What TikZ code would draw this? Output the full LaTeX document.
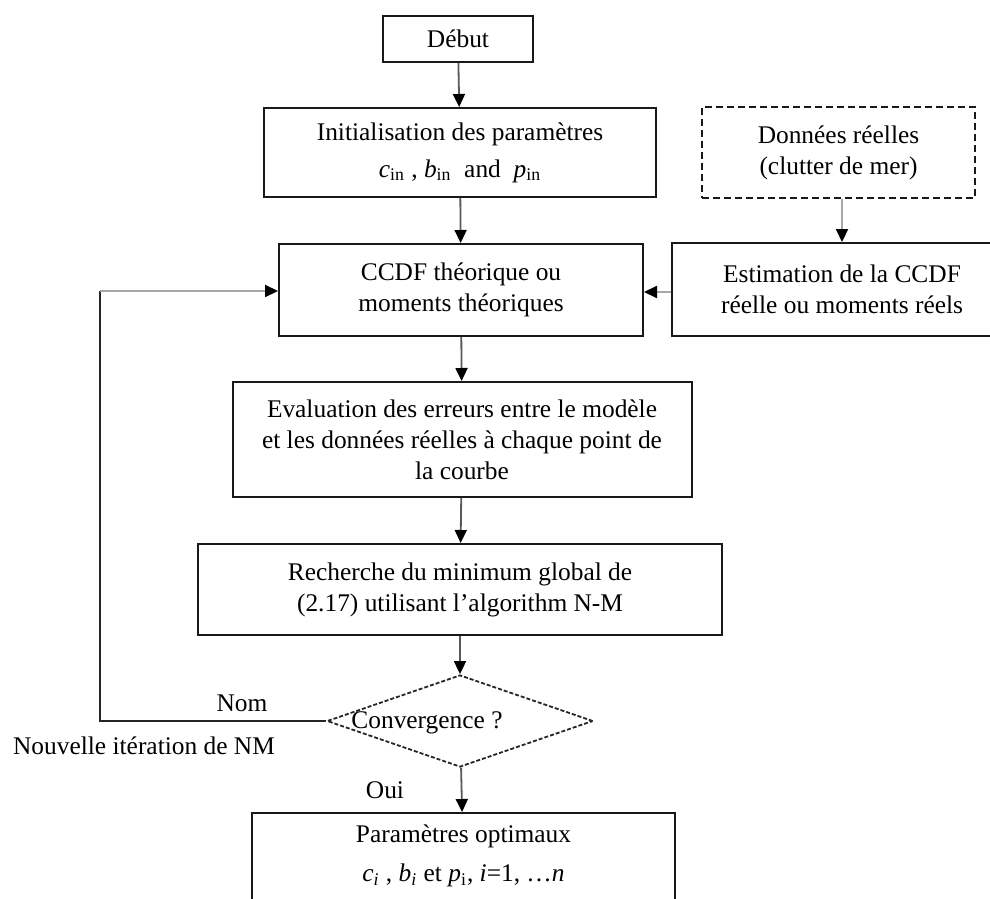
\documentclass[tikz,border=0pt]{standalone}
\usepackage{fontspec}
\setmainfont{Liberation Serif}
\usetikzlibrary{shapes.geometric,arrows.meta}

\begin{document}
\begin{tikzpicture}[x=0.5pt,y=-0.5pt,
  font=\fontsize{12.7}{15.5}\selectfont,
  box/.style={draw=black!90,line width=1pt,align=center,inner sep=0pt},
  dashbox/.style={box,dashed,dash pattern=on 3.5pt off 2pt},
  flow/.style={draw=black!65,line width=0.9pt,-{Triangle[length=6.5pt,width=6pt,color=black]}},
  grayflow/.style={flow,draw=black!35,line width=1.1pt},
  plain/.style={draw=black!85,line width=0.9pt},
  lbl/.style={inner sep=0pt}]

\useasboundingbox (0,0) rectangle (990,899);

% boxes of the main column
\node (debut) [box,minimum width=75pt,minimum height=23pt] at (458,39) {Début};
\node (init) [box,minimum width=196pt,minimum height=44.5pt] at (460,152.5)
  {Initialisation des paramètres\\[3pt]
   \textit{c}\textsubscript{in} , \textit{b}\textsubscript{in}\ \ and\ \ \textit{p}\textsubscript{in}};
\node (ccdf) [box,minimum width=182pt,minimum height=46pt] at (461,290)
  {CCDF théorique ou\\moments théoriques};
\node (eval) [box,minimum width=229.5pt,minimum height=57.5pt] at (462,439.5)
  {Evaluation des erreurs entre le modèle\\et les données réelles à chaque point de\\la courbe};
\node (rech) [box,minimum width=262pt,minimum height=45.5pt] at (460,589.5)
  {Recherche du minimum global de\\(2.17) utilisant l’algorithm N-M};
\node (conv) [diamond,draw=black!85,dashed,dash pattern=on 2pt off 1pt,line width=0.9pt,
  minimum width=133pt,minimum height=46pt,inner sep=0pt] at (460,721) {};
\node [lbl] at (427,723) {Convergence ?};
\node (final) [box,minimum width=211.5pt,minimum height=60pt,anchor=north] at (463.5,812) {};
\node [lbl,align=center] at (463.5,856)
  {Paramètres optimaux\\[4pt]
   \textit{c}\textsubscript{\textit{i}} , \textit{b}\textsubscript{\textit{i}} et \textit{p}\textsubscript{i}, \textit{i}=1, …\textit{n}};

% boxes of the data branch
\node (donnees) [dashbox,minimum width=136.5pt,minimum height=45.5pt] at (838.5,152.5)
  {Données réelles\\(clutter de mer)};
\node (estim) [box,minimum width=170pt,minimum height=46.5pt] at (842,289.5)
  {Estimation de la CCDF\\réelle ou moments réels};

% connectors
\draw[flow] (debut) -- (init);
\draw[flow] (init) -- (ccdf);
\draw[flow] (ccdf) -- (eval);
\draw[flow] (eval) -- (rech);
\draw[flow] (rech) -- (conv);
\draw[flow] (conv) -- (final);
\draw[grayflow] (estim.north |- donnees.south) -- (estim.north);
\draw[grayflow] (estim.west |- 0,292) -- (ccdf.east |- 0,292);

% loop back for a new iteration
\coordinate (lb) at (100,721);
\coordinate (lt) at (100,291);
\draw[plain] (conv.west) -- (lb) -- (lt);
\draw[grayflow] (lt) -- (lt -| ccdf.west);

% labels
\node [lbl] at (242,703) {Nom};
\node [lbl] at (144,746) {Nouvelle itération de NM};
\node [lbl] at (385,790) {Oui};
\end{tikzpicture}
\end{document}
